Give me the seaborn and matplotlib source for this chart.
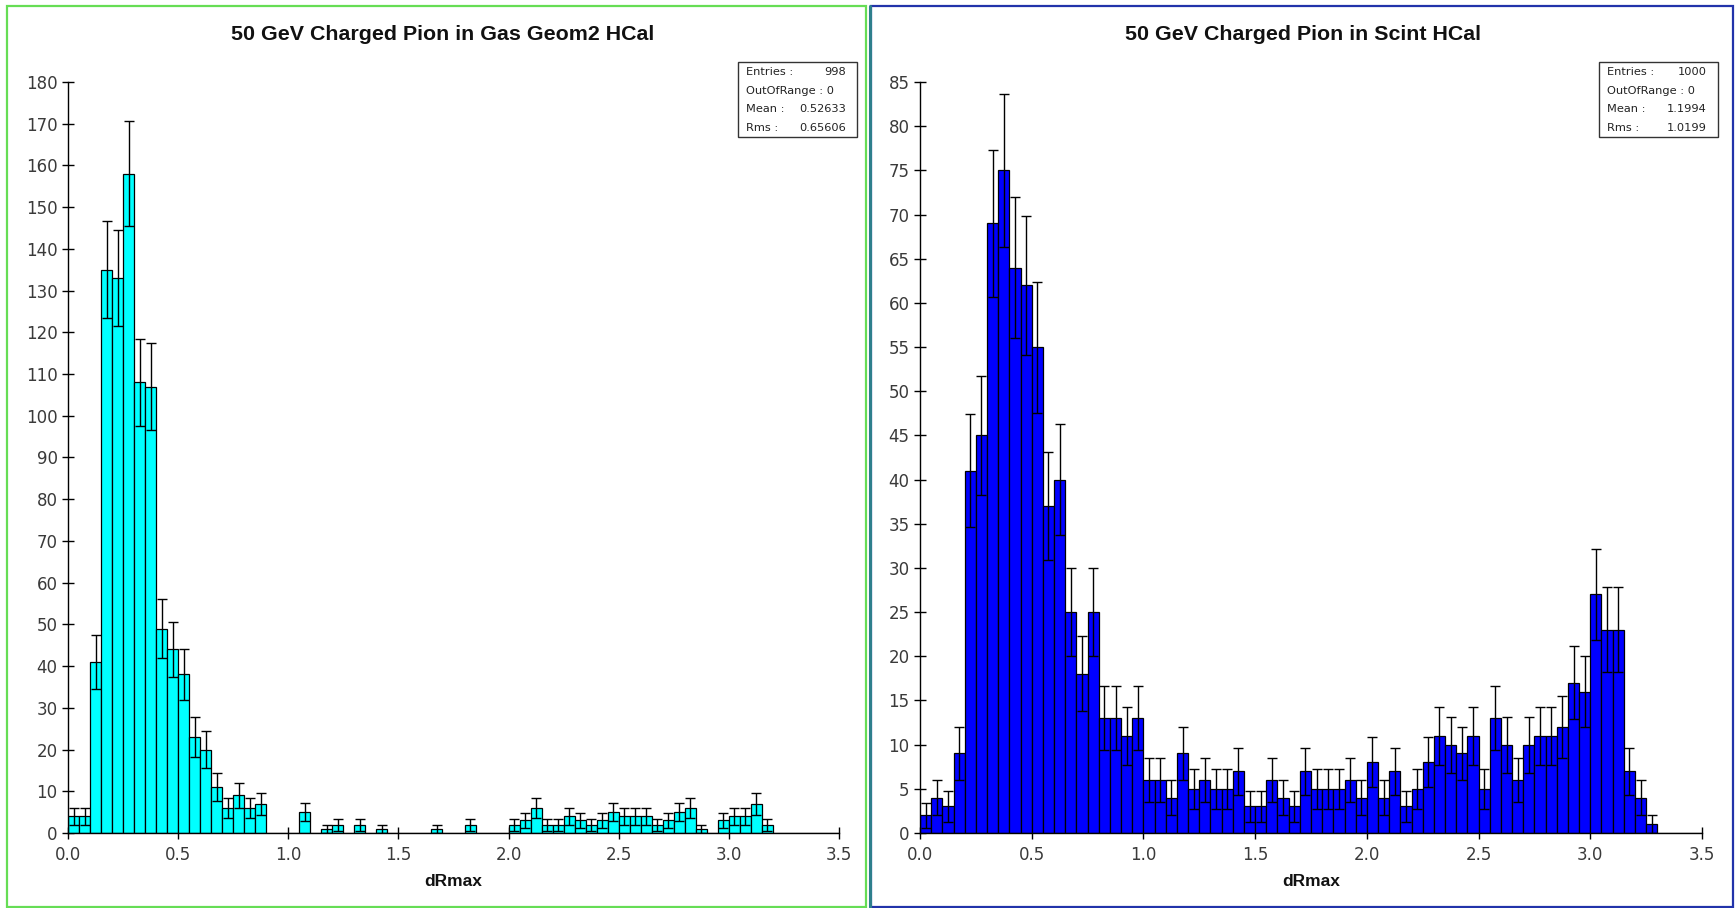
import numpy as np
import pandas as pd
import seaborn as sns
import matplotlib
matplotlib.use("Agg")
import matplotlib.pyplot as plt
from matplotlib.patches import Rectangle
from matplotlib.lines import Line2D

# ---------------- data ----------------
bin_width = 0.05
x_range = (0.0, 3.5)
bin_centers = np.round(np.arange(x_range[0] + bin_width / 2, x_range[1], bin_width), 4)

# 50 GeV charged pion in Gas Geom2 HCal (70 bins of 0.05 from 0.0 to 3.5)
gas_counts = [
    4, 4, 41, 135, 133, 158, 108, 107, 49, 44,      # 0.00 - 0.50
    38, 23, 20, 11, 6, 9, 6, 7, 0, 0,               # 0.50 - 1.00
    0, 5, 0, 1, 2, 0, 2, 0, 1, 0,                   # 1.00 - 1.50
    0, 0, 0, 1, 0, 0, 2, 0, 0, 0,                   # 1.50 - 2.00
    2, 3, 6, 2, 2, 4, 3, 2, 3, 5,                   # 2.00 - 2.50
    4, 4, 4, 2, 3, 5, 6, 1, 0, 3,                   # 2.50 - 3.00
    4, 4, 7, 2, 0, 0, 0, 0, 0, 0,                   # 3.00 - 3.50
]

# 50 GeV charged pion in Scint HCal
scint_counts = [
    2, 4, 3, 9, 41, 45, 69, 75, 64, 62,             # 0.00 - 0.50
    55, 37, 40, 25, 18, 25, 13, 13, 11, 13,         # 0.50 - 1.00
    6, 6, 4, 9, 5, 6, 5, 5, 7, 3,                   # 1.00 - 1.50
    3, 6, 4, 3, 7, 5, 5, 5, 6, 4,                   # 1.50 - 2.00
    8, 4, 7, 3, 5, 8, 11, 10, 9, 11,                # 2.00 - 2.50
    5, 13, 10, 6, 10, 11, 11, 12, 17, 16,           # 2.50 - 3.00
    27, 23, 23, 7, 4, 1, 0, 0, 0, 0,                # 3.00 - 3.50
]

titles = ["50 GeV Charged Pion in Gas Geom2 HCal", "50 GeV Charged Pion in Scint HCal"]
x_label = "dRmax"
x_ticks = [0.0, 0.5, 1.0, 1.5, 2.0, 2.5, 3.0, 3.5]
gas_y_ticks = list(range(0, 181, 10))
scint_y_ticks = list(range(0, 86, 5))

gas_stats = [("Entries :", "998"), ("OutOfRange : 0", ""), ("Mean :", "0.52633"), ("Rms :", "0.65606")]
scint_stats = [("Entries :", "1000"), ("OutOfRange : 0", ""), ("Mean :", "1.1994"), ("Rms :", "1.0199")]

# ---------------- figure ----------------
sns.set_theme(style="white")
plt.rcParams["font.family"] = ["DejaVu Sans"]

W, H = 1736, 908
fig = plt.figure(figsize=(W / 100, H / 100), dpi=100)
fig.patch.set_facecolor("white")

def fx(px):
    return px / W

def fy(py):
    return 1 - py / H

panels = [
    dict(counts=gas_counts, color="#00FFFF", yticks=gas_y_ticks, ymax=180,
         ax_px=(68, 839), title=titles[0], stats=gas_stats, box=(738, 857), tshift=-11),
    dict(counts=scint_counts, color="#0000FF", yticks=scint_y_ticks, ymax=85,
         ax_px=(920, 1702), title=titles[1], stats=scint_stats, box=(1599, 1718), tshift=-8),
]

top_px, bot_px = 82, 833

for p in panels:
    x0, x1 = p["ax_px"]
    ax = fig.add_axes([fx(x0), fy(bot_px), fx(x1 - x0), (bot_px - top_px) / H])
    df = pd.DataFrame({"x": bin_centers, "w": np.array(p["counts"], dtype=float)})
    sns.histplot(data=df, x="x", weights="w", binwidth=bin_width, binrange=x_range,
                 ax=ax, color=p["color"], alpha=1.0, edgecolor="black", linewidth=0.9)
    counts = np.array(p["counts"], dtype=float)
    mask = counts > 0
    err = np.sqrt(counts[mask])
    ax.errorbar(bin_centers[mask], counts[mask], yerr=err, fmt="none",
                ecolor="black", elinewidth=1.0, capsize=3.3, capthick=1.0, zorder=5)
    ax.set_xlim(*x_range)
    ax.set_ylim(0, p["ymax"])
    ax.set_xticks(x_ticks)
    ax.set_xticklabels([f"{t:.1f}" for t in x_ticks])
    ax.set_yticks(p["yticks"])
    ax.set_yticklabels([str(t) for t in p["yticks"]])
    ax.set_facecolor("white")
    for s in ["top", "right"]:
        ax.spines[s].set_visible(False)
    for s in ["left", "bottom"]:
        ax.spines[s].set_visible(True)
        ax.spines[s].set_color("black")
        ax.spines[s].set_linewidth(1.0)
    ax.tick_params(axis="both", which="major", bottom=True, left=True, top=False, right=False,
                   direction="inout", length=9, width=1.0,
                   colors="black", labelcolor="#3a3a3a", labelsize=12, pad=3.0)
    ax.tick_params(axis="x", pad=4.5)
    ax.set_xlabel("")
    ax.set_ylabel("")
    ax.grid(False)

    cx_panel = (x0 + x1) / 2
    fig.text(fx(cx_panel + p["tshift"]), fy(35), p["title"],
             ha="center", va="center", fontsize=15.4, fontweight="bold",
             family=["Liberation Sans", "DejaVu Sans"], color="#111111")
    fig.text(fx(cx_panel), fy(881), x_label, ha="center", va="center",
             fontsize=12.5, fontweight="bold",
             family=["Liberation Sans", "DejaVu Sans"], color="#111111")

    bx0, bx1 = p["box"]
    fig.patches.append(Rectangle((fx(bx0), fy(137)), fx(bx1 - bx0), (137 - 62) / H,
                                 transform=fig.transFigure, facecolor="white",
                                 edgecolor="#333333", linewidth=1.0, zorder=10))
    for i, (lab, val) in enumerate(p["stats"]):
        yy = fy(72 + i * 18.7)
        fig.text(fx(bx0 + 8), yy, lab, ha="left", va="center", fontsize=8.2,
                 color="#222222", zorder=11)
        if val:
            fig.text(fx(bx1 - 11), yy, val, ha="right", va="center", fontsize=8.2,
                     color="#222222", zorder=11)

fig.patches.append(Rectangle((fx(7), fy(907)), fx(866 - 7), (907 - 6) / H,
                             transform=fig.transFigure, facecolor="none",
                             edgecolor="#66DD55", linewidth=1.6, zorder=0))
fig.patches.append(Rectangle((fx(871), fy(907)), fx(1733 - 871), (907 - 6) / H,
                             transform=fig.transFigure, facecolor="none",
                             edgecolor="#2233AA", linewidth=1.6, zorder=0))
fig.lines.append(Line2D([fx(870), fx(870)], [fy(907), fy(6)], transform=fig.transFigure,
                        color="#2E7F8C", linewidth=2.2, zorder=1))

fig.savefig("out.png", dpi=100, facecolor="white")
